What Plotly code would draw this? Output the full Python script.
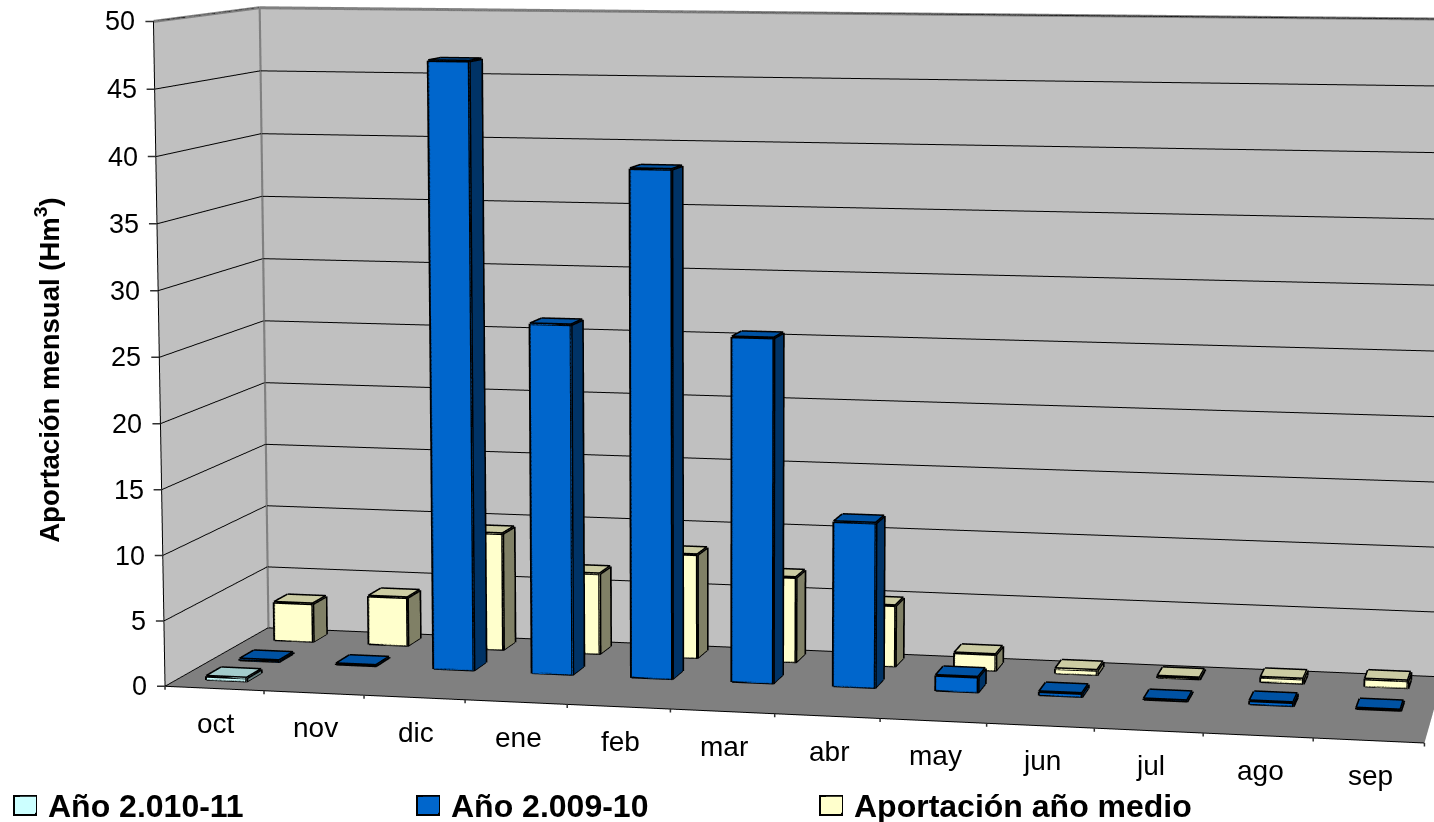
import math
import plotly.graph_objects as go

months = ["oct","nov","dic","ene","feb","mar","abr","may","jun","jul","ago","sep"]
z_ticks = [0,5,10,15,20,25,30,35,40,45,50]
serie_1011 = [0.3,0,0,0,0,0,0,0,0,0,0,0]
serie_0910 = [0.15,0.1,46.75,26.95,38.85,26.35,12.6,1.2,0.3,0.1,0.3,0.1]
serie_medio = [3.1,3.9,9.3,6.4,8.2,6.7,4.8,1.3,0.4,0.15,0.4,0.6]
names = ["Año 2.010-11","Año 2.009-10","Aportación año medio"]
rows = [(0.12,0.26),(0.44,0.58),(0.79,0.93)]
front = ["#CCFFFF","#0066CC","#FFFFCC"]
top = ["#A3CCCC","#0052A3","#CCCCA3"]
side = ["#668080","#003366","#808066"]
BAR=(0.29,0.70)
swatch_left=[14,417,820]

def box_mesh(values,row,fc,tc,sc,name):
    xs,ys,zs,I,J,K,col=[],[],[],[],[],[],[]
    ex,ey,ez=[],[],[]
    for i,v in enumerate(values):
        if v<=0: continue
        x0,x1=i+BAR[0],i+BAR[1]; y0,y1=row
        n=len(xs)
        xs+=[x0,x1,x1,x0,x0,x1,x1,x0]; ys+=[y0,y0,y1,y1,y0,y0,y1,y1]; zs+=[0,0,0,0,v,v,v,v]
        faces=[((0,1,5),fc),((0,5,4),fc),((4,5,6),tc),((4,6,7),tc),((1,2,6),sc),((1,6,5),sc)]
        for (a,b,c),cc in faces:
            I.append(n+a);J.append(n+b);K.append(n+c);col.append(cc)
        for a,b in [(0,1),(1,5),(5,4),(4,0),(5,6),(6,7),(7,4),(1,2),(2,6)]:
            ex+=[xs[n+a],xs[n+b],None];ey+=[ys[n+a],ys[n+b],None];ez+=[zs[n+a],zs[n+b],None]
    m=go.Mesh3d(x=xs,y=ys,z=zs,i=I,j=J,k=K,facecolor=col,flatshading=True,name=name,showlegend=False,hoverinfo="skip",
        lighting=dict(ambient=1,diffuse=0,specular=0,roughness=1,fresnel=0))
    l=go.Scatter3d(x=ex,y=ey,z=ez,mode="lines",line=dict(color="black",width=6),showlegend=False,hoverinfo="skip")
    return [m,l]

fig=go.Figure()
for s,row,f,t,sd,n in zip([serie_1011,serie_0910,serie_medio],rows,front,top,side,names):
    for tr in box_mesh(s,row,f,t,sd,n): fig.add_trace(tr)
    fig.add_trace(go.Scatter3d(x=[None],y=[None],z=[None],mode="markers",name=n,showlegend=True,
        marker=dict(symbol="square",size=22,color=f,line=dict(color=f,width=0))))
fig.add_trace(go.Scatter3d(x=[12,0,0,None,0,0],y=[1,1,0,None,1,1],z=[50,50,50,None,0,50],mode="lines",
    line=dict(color="#808080",width=6),showlegend=False,hoverinfo="skip"))
FONT="Liberation Sans"
TICKC="#303030"
ann=[dict(x=i+.5,y=0,z=0,text=m,showarrow=False,yshift=-35,xshift=2,font=dict(family=FONT,size=28,color="black")) for i,m in enumerate(months)]
ann+=[dict(x=i,y=0,z=0,text=" ",showarrow=True,arrowhead=0,arrowwidth=1.5,arrowcolor=TICKC,ax=0,ay=12,standoff=0) for i in range(13)]
ann+=[dict(x=0,y=0,z=v,text=" ",showarrow=True,arrowhead=0,arrowwidth=1.5,arrowcolor=TICKC,ax=-11,ay=0,standoff=0) for v in z_ticks]
ann+=[dict(x=0,y=0,z=v,text=str(v),showarrow=False,xanchor="right",xshift=-16,font=dict(family=FONT,size=27,color="black")) for v in z_ticks]
off=dict(showgrid=False,zeroline=False,showspikes=False,title=dict(text=""),showticklabels=False,ticks="")
shapes=[dict(type="rect",xref="paper",yref="paper",x0=a/1434,x1=(a+22)/1434,y0=1-815/822,y1=1-796/822,fillcolor=c,line=dict(color="black",width=2),layer="below")
        for a,c in zip(swatch_left,front)]
fig.update_layout(width=1434,height=822,margin=dict(l=0,r=0,t=0,b=0,autoexpand=False),paper_bgcolor="white",
  font=dict(family=FONT,color="black"),shapes=shapes,
  legend=dict(orientation="h",x=8/1434,y=1-805/822,xanchor="left",yanchor="middle",entrywidth=358,entrywidthmode="pixels",
     font=dict(family=FONT,size=32,weight=700),bgcolor="rgba(0,0,0,0)",itemsizing="trace"),
  annotations=[dict(xref="paper",yref="paper",x=0.0335,y=0.549,xanchor="center",yanchor="middle",text="Aportación mensual (Hm<sup>3</sup>)",textangle=-90,showarrow=False,
     font=dict(family=FONT,size=27.5,weight=700))],
  scene=dict(domain=dict(x=[0,1],y=[0,1]),aspectmode="manual",aspectratio=dict(x=2,y=0.5223,z=1.0646),
    camera=dict(eye=dict(x=1.3435,y=-6.7374,z=.841),center=dict(x=-.134,y=-.0716,z=-.0858),up=dict(x=0,y=0,z=1),projection=dict(type="perspective")),
    annotations=ann,
    xaxis=dict(off,range=[0,12],showline=True,linecolor="black",linewidth=2,showbackground=True,backgroundcolor="#C0C0C0"),
    yaxis=dict(off,range=[0,1],showline=False,showbackground=True,backgroundcolor="#C0C0C0"),
    zaxis=dict(off,range=[0,50],tickvals=z_ticks,showgrid=True,gridcolor="black",gridwidth=2,showline=True,linecolor="black",linewidth=2,
        showbackground=True,backgroundcolor="#808080"),
  ))
LENS=2*math.atan(1/10.5327)
post="""
document.documentElement.style.overflow='hidden';
document.body.style.margin='0';
var gp=document.getElementById('{plot_id}')._fullLayout.scene._scene.glplot;
gp.fovy=%f; gp.redraw&&gp.redraw();
""" % LENS
fig.write_html("out.html",post_script=post,config=dict(displayModeBar=False))
